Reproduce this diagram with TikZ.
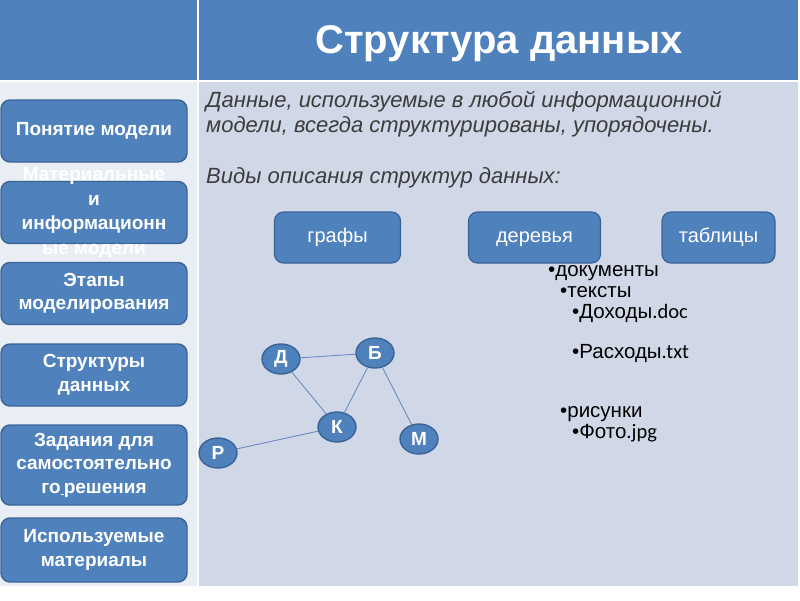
\documentclass[tikz,border=0pt]{standalone}
\usepackage{fontspec}
\setmainfont{Liberation Sans}
\newfontfamily\calib{Carlito}
\usetikzlibrary{shapes.geometric}
\definecolor{hblue}{HTML}{4F81BD}
\definecolor{bborder}{HTML}{3A6395}
\definecolor{rbg}{HTML}{D0D8E8}
\definecolor{lbg}{HTML}{E9EDF4}
\definecolor{itgray}{HTML}{3C3C3C}
\definecolor{edgec}{HTML}{6A8BBF}
\tikzset{
  menubox/.style={draw=bborder, line width=1.4pt, fill=hblue, rounded corners=9pt,
    minimum width=186pt, minimum height=62pt, text=white, align=center,
    font=\fontsize{19}{23.5}\selectfont\bfseries, inner sep=0pt},
  kindbox/.style={draw=bborder, line width=1.2pt, fill=hblue, rounded corners=9pt,
    minimum height=51pt, text=white, font=\fontsize{20}{22}\selectfont, inner sep=0pt,
    text height=14pt, text depth=4pt},
  gnode/.style={ellipse, draw=bborder, line width=1.4pt, fill=hblue, minimum width=38pt,
    minimum height=30pt, inner sep=0pt, text=white, font=\fontsize{19}{20}\selectfont\bfseries},
  gedge/.style={draw=edgec, line width=0.9pt},
  listitem/.style={anchor=base west, inner sep=0pt, font=\fontsize{20.5}{22}\selectfont, text=black},
  itext/.style={anchor=base west, inner sep=0pt, text=itgray, font=\fontsize{22}{25}\selectfont\itshape, align=left}
}
\begin{document}
\begin{tikzpicture}[x=1pt,y=-1pt]
\useasboundingbox (0,0) rectangle (800,600);
\fill[white] (0,0) rectangle (800,600);
% table backgrounds
\fill[rbg] (198,81) rectangle (798,586);
\fill[lbg] (0,81) rectangle (198,586);
\fill[hblue] (0,0) rectangle (798,81);
\draw[white, line width=2pt] (198,0) -- (198,586);
\draw[white, line width=2.5pt] (0,81) -- (798,81);
% title
\node[text=white, font=\fontsize{40}{42}\selectfont\bfseries, inner sep=0pt, anchor=base] (title) at (499,53) {Структура данных};
% left menu
\node[menubox] (m1) at (94,131) {Понятие модели};
\node[menubox, text height=0pt] (m2) at (94,212.5) {};
\node[text=white, align=center, font=\fontsize{19}{24.5}\selectfont\bfseries, inner sep=0pt] (m2t) at (94,213) {Материальные\\и\\информационн\\ые модели};
\node[menubox] (m3) at (94,293.5) {Этапы\\моделирования};
\node[menubox] (m4) at (94,375) {Структуры\\данных};
\node[menubox, minimum height=80pt] (m5) at (94,465) {Задания для\\самостоятельно\\го\underline{\,}решения};
\node[menubox, minimum height=64pt] (m6) at (94,550) {Используемые\\материалы};
% right text
\node[itext] (t1) at (206,107) {Данные, используемые в любой информационной};
\node[itext] (t2) at (206,132) {модели, всегда структурированы, упорядочены.};
\node[itext] (t3) at (206,183) {Виды описания структур данных:};
% kinds
\node[kindbox, minimum width=126pt] (k1) at (337.5,237.5) {графы};
\node[kindbox, minimum width=132pt] (k2) at (534.5,237.5) {деревья};
\node[kindbox, minimum width=113pt] (k3) at (718.5,237.5) {таблицы};
% tree list
\node[listitem] (l1) at (548,276) {•документы};
\node[listitem] (l2) at (560,297) {•тексты};
\node[listitem] (l3) at (572,318) {•Доходы{\calib .doc}};
\node[listitem] (l4) at (572,358) {•Расходы{\calib .txt}};
\node[listitem] (l5) at (560,417) {•рисунки};
\node[listitem] (l6) at (572,438) {•Фото{\calib .jpg}};
% graph
\node[gnode] (gD) at (281,359) {Д};
\node[gnode] (gB) at (375,353) {Б};
\node[gnode] (gK) at (337,427) {К};
\node[gnode] (gM) at (419,439) {М};
\node[gnode] (gR) at (218,453) {Р};
\draw[gedge] (gD) -- (gB);
\draw[gedge] (gD) -- (gK);
\draw[gedge] (gB) -- (gK);
\draw[gedge] (gB) -- (gM);
\draw[gedge] (gK) -- (gR);
\end{tikzpicture}
\end{document}
